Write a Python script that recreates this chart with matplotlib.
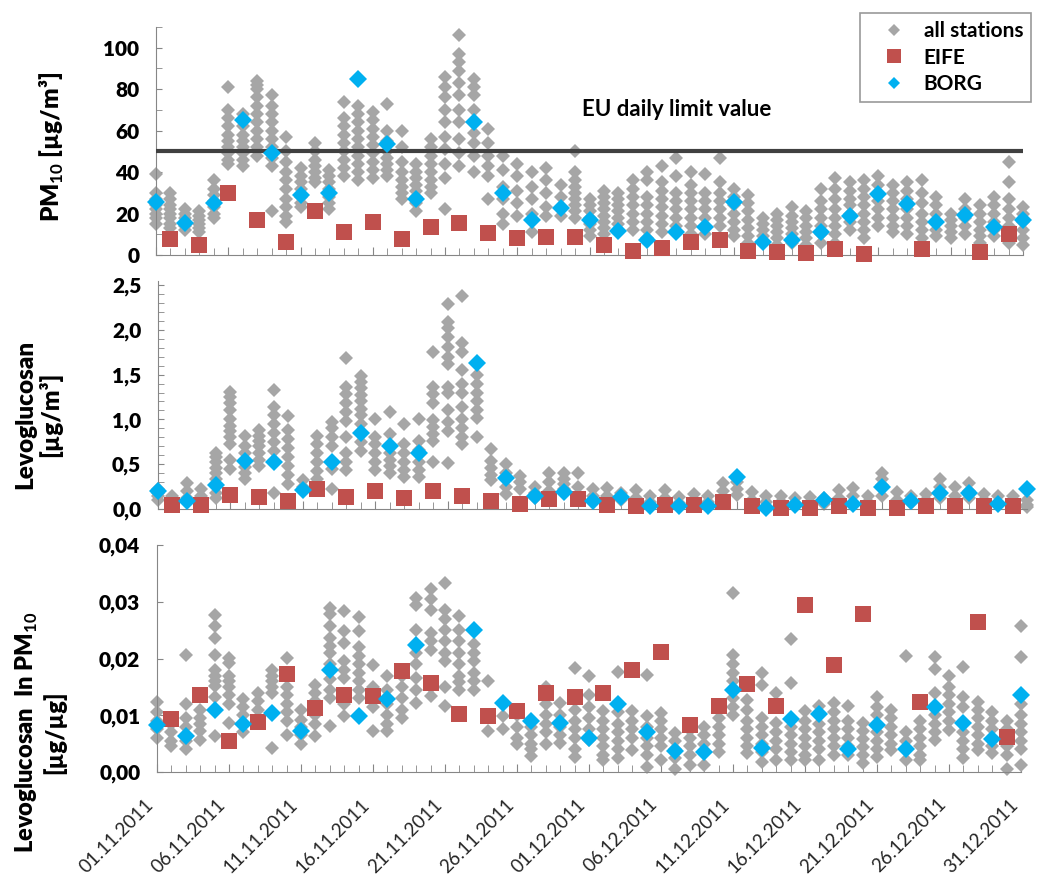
import numpy as np
import matplotlib
matplotlib.use("agg")
import matplotlib.pyplot as plt
from matplotlib import font_manager as fm
from matplotlib.lines import Line2D
from matplotlib.ticker import MultipleLocator


def has_bold(fam):
    try:
        path = fm.findfont(fm.FontProperties(family=fam, weight="bold"),
                           fallback_to_default=False)
    except ValueError:
        return False
    return "bold" in path.lower()


FONT = next((f for f in ["Lato", "Open Sans", "Noto Sans", "Liberation Sans"]
             if has_bold(f)), "DejaVu Sans")
plt.rcParams["font.family"] = [FONT, "DejaVu Sans"]
plt.rcParams["mathtext.fontset"] = "custom"
plt.rcParams["mathtext.rm"] = FONT
plt.rcParams["mathtext.bf"] = FONT + ":bold"
BOLD = "heavy"

# day index 0 = 01.11.2011 ... 60 = 31.12.2011
date_labels = ["01.11.2011", "06.11.2011", "11.11.2011", "16.11.2011",
               "21.11.2011", "26.11.2011", "01.12.2011", "06.12.2011",
               "11.12.2011", "16.12.2011", "21.12.2011", "26.12.2011",
               "31.12.2011"]

# all stations, one string per day
pm10_all = [
    "39 30 27 24 22 20 18 15", "30 27 24 22 20 18 15 13", "22 20 18 16 14 12",
    "21 19 17 15 13 11", "36 32 29 26 23 20 18",
    "81 70 66 62 58 55 52 49 46 44", "68 62 58 55 52 49 46 43",
    "84 82 80 76 72 68 64 60 56 52 48", "77 72 68 64 60 56 52 47 43 21",
    "57 50 45 40 36 32 27 23 19 16", "42 38 35 32 28 25 23",
    "54 50 46 43 40 37 35", "41 38 35 32 28 25 22",
    "74 66 62 58 54 50 46 42 38", "72 68 64 60 56 52 48 44 40 36",
    "69 65 61 57 53 49 45 41 37", "73 60 55 50 47 44 41 38",
    "60 52 45 40 36 33 30 27", "44 40 37 34 31 28 25 21",
    "56 52 48 44 40 36 33 30", "86 81 76 70 64 57 51 44 37 22",
    "106 97 93 89 83 77 70 64 56 49 43", "85 81 77 70 59 54 48 40",
    "61 54 48 43 38 27", "48 41 33 27 20 15", "44 38 31 25 19",
    "40 33 27 20 11", "42 36 30 23 19", "34 28 23 19",
    "50 40 36 33 30 27 24 21 18", "27 24 21 18 15 12 9",
    "31 28 25 22 19 16 13 10", "30 27 24 21 18 15 12",
    "36 32 28 24 20 16 12", "40 36 28 24 20 16 12 8",
    "43 35 31 27 23 19 15 11", "47 38 30 26 22 18 14",
    "40 34 30 26 22 18 14 10", "39 30 26 22 18 14 10",
    "47 35 30 26 22 18 14", "32 28 24 20 16 12 9", "29 25 21 17 13 9 6",
    "18 15 12 9 6", "20 17 14 11 8 5", "23 19 16 13 10 6",
    "21 18 14 11 8 5", "32 26 22 18 14 10 6", "37 32 27 22 18 14 10 6",
    "35 31 27 24 20 16 12", "36 32 28 24 20 16 12 8",
    "38 34 30 26 22 18 14", "34 30 26 22 18 14 11",
    "35 31 27 22 18 14 10", "36 30 25 20 16 12 8", "28 24 20 16 12 9",
    "20 17 14 11 8", "27 22 18 14 10", "24 20 16 12 9 6",
    "28 24 20 16 12 9", "45 35 27 22 18 14 10 6", "23 20 16 12 8 5",
]

levo_all = [
    "0.22 0.18 0.14 0.10", "0.15 0.10 0.06", "0.29 0.20 0.12",
    "0.22 0.15 0.10", "0.63 0.58 0.52 0.46 0.40 0.33 0.26 0.18 0.12",
    "1.31 1.25 1.18 1.10 1.00 0.93 0.87 0.80 0.73 0.55 0.45",
    "0.82 0.70 0.62 0.55 0.47 0.40 0.33", "0.88 0.82 0.76 0.70 0.63 0.55 0.48",
    "1.33 1.14 1.05 0.95 0.85 0.75 0.65 0.18",
    "1.04 0.88 0.78 0.68 0.58 0.48 0.38 0.28", "0.32 0.25",
    "0.81 0.72 0.62 0.52 0.42 0.33", "0.97 0.90 0.80 0.70 0.45 0.22",
    "1.69 1.36 1.28 1.18 1.08 0.98 0.80 0.62 0.52 0.43",
    "1.49 1.42 1.35 1.27 1.20 1.12 1.05 0.95 0.75 0.65",
    "1.00 0.80 0.72 0.62 0.52 0.43", "1.08 0.84 0.62 0.55 0.48 0.40",
    "0.95 0.72 0.62 0.52 0.44 0.36", "1.00 0.76 0.66 0.52 0.43 0.36",
    "1.75 1.36 1.28 1.18 0.99 0.92 0.84 0.76 0.52",
    "2.29 2.09 2.02 1.92 1.81 1.70 1.62 1.36 1.30 1.10 0.97 0.87 0.51",
    "2.38 1.85 1.75 1.55 1.40 1.29 1.14 1.00 0.90 0.80 0.73",
    "1.50 1.40 1.30 1.20 1.10 1.02 0.80", "0.67 0.54 0.46 0.38 0.32",
    "0.50 0.40 0.25 0.17", "0.37 0.30 0.22", "0.25 0.18 0.12",
    "0.40 0.30 0.20", "0.40 0.33 0.28 0.22", "0.40 0.25 0.15", "0.22 0.15",
    "0.23 0.15 0.08", "0.18 0.10", "0.21 0.12", "0.14 0.08", "0.21 0.12",
    "0.13 0.07", "0.17 0.10", "0.15 0.08", "0.29 0.20 0.12",
    "0.30 0.22 0.16", "0.19 0.10", "0.15 0.08", "0.15 0.08", "0.12 0.07",
    "0.13 0.07", "0.12 0.06", "0.21 0.12", "0.23 0.15", "0.15 0.08",
    "0.40 0.33 0.27 0.15", "0.19 0.10", "0.14 0.07", "0.17 0.10",
    "0.33 0.25 0.12", "0.25 0.15", "0.29 0.20 0.12", "0.17 0.10",
    "0.14 0.07", "0.14 0.08", "0.10 0.05 0.02",
]

ratio_all = [
    "0.0124 0.0105 0.0090 0.0075 0.0060", "0.0085 0.0070 0.0055 0.0045",
    "0.0206 0.0119 0.0095 0.0080 0.0055 0.0040",
    "0.0110 0.0095 0.0085 0.0072 0.0057",
    "0.0276 0.0257 0.0236 0.0207 0.0180 0.0169 0.0160 0.0151 0.0133 0.0063",
    "0.0201 0.0192 0.0170 0.0160 0.0150 0.0135 0.0120 0.0086",
    "0.0128 0.0115 0.0100 0.0085 0.0070", "0.0140 0.0125 0.0110 0.0095",
    "0.0180 0.0170 0.0160 0.0150 0.0140 0.0042",
    "0.0201 0.0150 0.0135 0.0120 0.0105 0.0090 0.0066",
    "0.0110 0.0092 0.0080 0.0065 0.0050",
    "0.0154 0.0140 0.0125 0.0100 0.0085 0.0063",
    "0.0289 0.0278 0.0257 0.0236 0.0222 0.0210 0.0190 0.0163 0.0145 0.0130 0.0081",
    "0.0284 0.0248 0.0228 0.0195 0.0180 0.0165 0.0120 0.0098",
    "0.0274 0.0248 0.0220 0.0205 0.0190 0.0175 0.0160 0.0145 0.0130",
    "0.0189 0.0150 0.0130 0.0115 0.0072",
    "0.0169 0.0145 0.0120 0.0100 0.0085 0.0072",
    "0.0169 0.0150 0.0130 0.0110 0.0095",
    "0.0307 0.0295 0.0251 0.0210 0.0190 0.0165 0.0145 0.0122",
    "0.0322 0.0305 0.0286 0.0245 0.0230 0.0215 0.0150 0.0134",
    "0.0333 0.0286 0.0270 0.0250 0.0230 0.0210 0.0195 0.0150 0.0116",
    "0.0275 0.0250 0.0230 0.0210 0.0190 0.0170 0.0158 0.0145",
    "0.0225 0.0210 0.0195 0.0175 0.0160 0.0145", "0.0160 0.0072",
    "0.0120 0.0098 0.0075", "0.0100 0.0080 0.0060 0.0050",
    "0.0080 0.0065 0.0050 0.0040 0.0028",
    "0.0150 0.0120 0.0100 0.0085 0.0070 0.0050",
    "0.0122 0.0100 0.0080 0.0065 0.0051",
    "0.0183 0.0110 0.0090 0.0075 0.0060 0.0040 0.0027",
    "0.0169 0.0135 0.0115 0.0095 0.0075 0.0057",
    "0.0107 0.0090 0.0075 0.0060 0.0045 0.0030 0.0021",
    "0.0176 0.0105 0.0085 0.0070 0.0055 0.0040 0.0024",
    "0.0107 0.0090 0.0075 0.0060 0.0039",
    "0.0171 0.0098 0.0080 0.0060 0.0045 0.0030 0.0009",
    "0.0104 0.0090 0.0075 0.0060 0.0045 0.0021",
    "0.0068 0.0055 0.0040 0.0025 0.0006",
    "0.0074 0.0060 0.0045 0.0030 0.0012",
    "0.0080 0.0065 0.0050 0.0035 0.0012",
    "0.0095 0.0080 0.0065 0.0050 0.0036",
    "0.0315 0.0207 0.0190 0.0175 0.0160 0.0145 0.0130 0.0115 0.0101",
    "0.0127 0.0110 0.0090 0.0075 0.0060 0.0045 0.0033",
    "0.0175 0.0154 0.0095 0.0080 0.0065 0.0050 0.0035 0.0018",
    "0.0139 0.0086 0.0070 0.0055 0.0040 0.0021",
    "0.0235 0.0157 0.0080 0.0065 0.0050 0.0035 0.0021",
    "0.0107 0.0090 0.0075 0.0060 0.0045 0.0030 0.0021",
    "0.0116 0.0100 0.0085 0.0070 0.0055 0.0040 0.0021",
    "0.0122 0.0105 0.0090 0.0075 0.0060 0.0045 0.0030",
    "0.0116 0.0090 0.0075 0.0060 0.0045 0.0030",
    "0.0086 0.0072 0.0058 0.0044 0.0030 0.0015",
    "0.0133 0.0115 0.0100 0.0070 0.0055 0.0040 0.0027",
    "0.0110 0.0095 0.0080 0.0065 0.0050 0.0039",
    "0.0204 0.0071 0.0055 0.0040 0.0021",
    "0.0089 0.0075 0.0060 0.0045 0.0030 0.0021",
    "0.0203 0.0181 0.0139 0.0100 0.0085 0.0070 0.0057",
    "0.0169 0.0150 0.0135 0.0120 0.0105 0.0090 0.0074",
    "0.0185 0.0133 0.0115 0.0070 0.0055 0.0040 0.0024",
    "0.0124 0.0110 0.0095 0.0080 0.0065 0.0050 0.0039",
    "0.0105 0.0090 0.0075 0.0060 0.0045 0.0033",
    "0.0089 0.0075 0.0045 0.0030 0.0006",
    "0.0257 0.0202 0.0120 0.0100 0.0085 0.0070 0.0055 0.0040 0.0012",
]

nan = np.nan
borg_days = list(range(0, 61, 2))
eife_days = list(range(1, 60, 2))

borg_pm10 = [25.4, 15.3, 25, 65, 49.4, 29, 30, 85, 53.6, 27, nan, 64.4, 29.8,
             17, 22.5, 17, 11.6, 7.2, 11.3, 13.7, 25.8, 6.4, 7.2, 11, 19, 29.3,
             24.6, 16, 19.3, 13.7, 17]
eife_pm10 = [7.6, 4.8, 30, 17, 6.4, 21, 11, 16, 7.6, 13.7, 15.6, 10.5, 8, 8.9,
             8.5, 4.8, 2, 3.2, 6.4, 7.2, 2, 1.6, 1, 2.7, 0.5, nan, 2.7, nan,
             1.6, 10]

borg_levo = [0.20, 0.09, 0.27, 0.54, 0.52, 0.21, 0.53, 0.85, 0.70, 0.62, nan,
             1.63, 0.35, 0.14, 0.19, 0.09, 0.13, 0.03, 0.03, 0.03, 0.36, 0.01,
             0.05, 0.10, 0.06, 0.24, 0.09, 0.18, 0.18, 0.06, 0.22]
eife_levo = [0.04, 0.04, 0.16, 0.13, 0.09, 0.22, 0.13, 0.20, 0.12, 0.20, 0.14,
             0.09, 0.06, 0.11, 0.11, 0.05, 0.03, 0.05, 0.04, 0.08, 0.03, 0.01,
             0.01, 0.03, 0.01, 0.01, 0.03, 0.03, 0.03, 0.03]

borg_ratio = [0.0082, 0.0063, 0.0110, 0.0084, 0.0104, 0.0072, 0.0180, 0.0098,
              0.0129, 0.0224, nan, 0.0250, 0.0121, 0.0089, 0.0087, 0.0060,
              0.0120, 0.0070, 0.0037, 0.0036, 0.0144, 0.0043, 0.0093, 0.0102,
              0.0041, 0.0082, 0.0041, 0.0114, 0.0087, 0.0058, 0.0136]
eife_ratio = [0.0094, 0.0135, 0.0054, 0.0088, 0.0172, 0.0113, 0.0135, 0.0134,
              0.0178, 0.0157, 0.0102, 0.0098, 0.0107, 0.0139, 0.0132, 0.0139,
              0.0179, 0.0211, 0.0083, 0.0117, 0.0155, 0.0116, 0.0294, 0.0189,
              0.0279, nan, 0.0124, nan, 0.0264, 0.0061]

eu_limit = 50

pm10_ticks = [0, 20, 40, 60, 80, 100]
levo_ticks = [0.0, 0.5, 1.0, 1.5, 2.0, 2.5]
ratio_ticks = [0.00, 0.01, 0.02, 0.03, 0.04]

GRAY = "#a6a6a6"
RED = "#c0504d"
BLUE = "#00b0f0"
AXC = "#868686"


def columns(day_strings):
    xs, ys = [], []
    for day, s in enumerate(day_strings):
        vals = [float(v) for v in s.split()]
        xs += [day] * len(vals)
        ys += vals
    return xs, ys


def comma(vals, nd):
    return ["{:.{}f}".format(v, nd).replace(".", ",") for v in vals]


fig = plt.figure(figsize=(10.41, 8.8), dpi=100)
W, H = 1041., 880.


def make_ax(x0, x1, y_bottom, y_top):
    return fig.add_axes([x0 / W, 1 - y_bottom / H, (x1 - x0) / W,
                         (y_bottom - y_top) / H])


ax1 = make_ax(156, 1023, 255, 27)
ax2 = make_ax(158, 1027, 509, 281)
ax3 = make_ax(157, 1021, 772, 545)

panels = [(ax1, pm10_all, eife_pm10, borg_pm10),
          (ax2, levo_all, eife_levo, borg_levo),
          (ax3, ratio_all, eife_ratio, borg_ratio)]

for ax, gray, eife, borg in panels:
    gx, gy = columns(gray)
    ax.plot(gx, gy, ls="none", marker="D", ms=7, mew=0, color=GRAY,
            zorder=2, clip_on=False)
    ax.plot(eife_days, eife, ls="none", marker="s", ms=11.5, mew=0,
            color=RED, zorder=3, clip_on=False)
    ax.plot(borg_days, borg, ls="none", marker="D", ms=9.5, mew=0,
            color=BLUE, zorder=4, clip_on=False)
    ax.set_xlim(0, 60)
    for side in ["top", "right"]:
        ax.spines[side].set_visible(False)
    for side in ["left", "bottom"]:
        ax.spines[side].set_color(AXC)
    ax.xaxis.set_major_locator(MultipleLocator(5))
    ax.xaxis.set_minor_locator(MultipleLocator(1))
    ax.tick_params(axis="both", which="both", direction="in", color=AXC)
    ax.tick_params(axis="x", which="major", length=6)
    ax.tick_params(axis="x", which="minor", length=5)
    ax.tick_params(axis="y", which="both", length=4, pad=12)

# top panel
ax1.set_ylim(0, 110)
ax1.set_yticks(pm10_ticks)
ax1.set_yticklabels([str(v) for v in pm10_ticks], fontsize=15,
                    fontweight=BOLD)
ax1.yaxis.set_minor_locator(MultipleLocator(10))
ax1.axhline(eu_limit, color="#404040", lw=3, zorder=3.5)
ax1.text(29.5, 70, "EU daily limit value", fontsize=16, va="center",
         ha="left", fontweight="bold")
ax1.set_xticklabels([])

# middle panel
ax2.set_ylim(0, 2.545)
ax2.set_yticks(levo_ticks)
ax2.set_yticklabels(comma(levo_ticks, 1), fontsize=15, fontweight=BOLD)
ax2.yaxis.set_minor_locator(MultipleLocator(0.1))
ax2.set_xticklabels([])

# bottom panel
ax3.set_ylim(0, 0.04)
ax3.set_yticks(ratio_ticks)
ax3.set_yticklabels(comma(ratio_ticks, 2), fontsize=15, fontweight=BOLD)
ax3.set_xticks(range(0, 61, 5))
ax3.set_xticklabels(date_labels, rotation=45, ha="right", fontsize=13.5,
                    color="#262626")
ax3.tick_params(axis="x", which="major", pad=17)

fig.text(52 / W, 1 - 147 / H, r"PM$_{\mathbf{10}}$ [µg/m³]", rotation=90,
         fontsize=17.5, fontweight=BOLD, ha="center", va="center")
fig.text(38 / W, 1 - 414 / H, "Levoglucosan\n[µg/m³]", rotation=90,
         fontsize=17.5, fontweight=BOLD, ha="center", va="center",
         multialignment="center", linespacing=1.1)
fig.text(40 / W, 1 - 732 / H, "Levoglucosan  In PM$_{\\mathbf{10}}$\n[µg/µg]",
         rotation=90, fontsize=17, fontweight=BOLD, ha="center",
         va="center", multialignment="center", linespacing=1.1)

handles = [
    Line2D([], [], ls="none", marker="D", ms=6.5, mew=0, color=GRAY),
    Line2D([], [], ls="none", marker="s", ms=10.5, mew=0, color=RED),
    Line2D([], [], ls="none", marker="D", ms=6.5, mew=0, color=BLUE),
]
leg = fig.legend(handles, ["all stations", "EIFE", "BORG"], loc="upper left",
                 bbox_to_anchor=(860 / W, 1 - 13 / H),
                 prop={"size": 15, "weight": "bold"},
                 frameon=True, fancybox=False, edgecolor="#808080",
                 handlelength=2.5, handletextpad=0.15, labelspacing=0.3,
                 borderpad=0.4, borderaxespad=0)
leg.get_frame().set_linewidth(1.2)

fig.savefig("out.png", dpi=100)
